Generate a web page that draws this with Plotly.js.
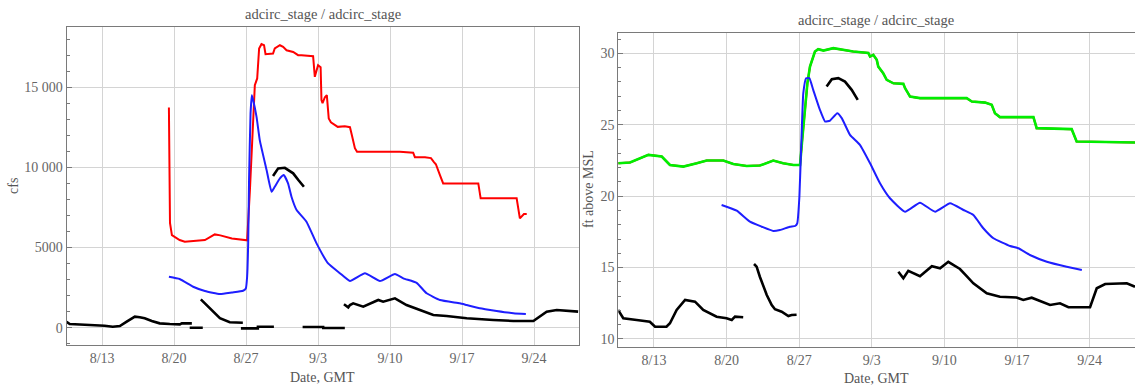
<!DOCTYPE html>
<html>
<head>
<meta charset="utf-8">
<script src="https://cdn.plot.ly/plotly-3.0.1.min.js"></script>
<style>html,body{margin:0;padding:0;background:#fff;}#chart{width:1135px;height:386px;}</style>
</head>
<body>
<div id="chart"></div>
<script>
// ---------- LEFT PANEL (cfs) ----------
const flowRedX = ['2011-08-19 12:00','2011-08-19 13:00','2011-08-19 14:30','2011-08-19 19:00','2011-08-20 13:00','2011-08-21 01:00','2011-08-22 00:00','2011-08-23 00:00','2011-08-23 23:00','2011-08-24 12:00','2011-08-25 15:00','2011-08-26 23:00','2011-08-27 02:30','2011-08-27 09:00','2011-08-27 16:30','2011-08-27 20:30','2011-08-28 02:00','2011-08-28 06:30','2011-08-28 12:00','2011-08-28 18:00','2011-08-28 21:30','2011-08-29 15:00','2011-08-29 19:00','2011-08-30 07:00','2011-08-30 14:30','2011-08-30 22:30','2011-08-31 14:00','2011-09-01 01:30','2011-09-01 09:30','2011-09-02 12:30','2011-09-02 16:30','2011-09-03 00:00','2011-09-03 06:00','2011-09-03 08:00','2011-09-03 10:30','2011-09-03 16:00','2011-09-03 20:30','2011-09-04 01:00','2011-09-04 06:00','2011-09-04 22:00','2011-09-05 14:30','2011-09-06 02:30','2011-09-06 07:00','2011-09-06 14:00','2011-09-06 19:00','2011-09-10 23:00','2011-09-12 06:00','2011-09-12 10:00','2011-09-13 09:30','2011-09-13 23:30','2011-09-14 06:30','2011-09-14 11:00','2011-09-14 20:30','2011-09-15 04:00','2011-09-18 14:00','2011-09-18 19:30','2011-09-22 07:30','2011-09-22 15:00','2011-09-23 00:30','2011-09-23 07:00'];
const flowRedY = [13740,9000,6530,5780,5470,5360,5420,5470,5820,5760,5570,5470,5450,8570,13360,15130,15550,17420,17690,17620,17060,17100,17420,17620,17520,17310,17200,17000,17000,16940,15650,16380,16250,14200,14010,14380,14510,13050,12820,12530,12570,12510,12010,11200,10970,10970,10920,10640,10640,10580,10330,10200,9520,9000,9000,8070,8070,6820,7090,7090];

const flowBlueX = ['2011-08-19 12:00','2011-08-20 13:00','2011-08-21 20:30','2011-08-23 00:00','2011-08-24 11:00','2011-08-25 15:00','2011-08-26 17:00','2011-08-26 23:30','2011-08-27 02:30','2011-08-27 05:00','2011-08-27 07:00','2011-08-27 10:30','2011-08-27 13:30','2011-08-27 16:30','2011-08-28 00:30','2011-08-28 08:00','2011-08-29 00:00','2011-08-29 11:30','2011-08-29 19:00','2011-08-30 07:00','2011-08-30 16:00','2011-08-31 02:00','2011-08-31 10:00','2011-08-31 22:00','2011-09-01 21:00','2011-09-02 20:30','2011-09-03 23:30','2011-09-05 03:00','2011-09-06 02:30','2011-09-07 13:30','2011-09-09 00:30','2011-09-10 11:30','2011-09-11 07:00','2011-09-12 14:00','2011-09-13 13:30','2011-09-14 20:30','2011-09-16 19:00','2011-09-17 11:00','2011-09-18 17:30','2011-09-22 00:00','2011-09-23 05:00'];
const flowBlueY = [3180,3040,2555,2290,2100,2200,2306,2450,3180,5260,9210,13370,14500,14200,13150,11700,9830,8480,8790,9310,9520,9000,8170,7340,6610,5260,4010,3400,2910,3390,2910,3350,3080,2800,2145,1730,1520,1415,1210,900,850];

const flowBlackX = ['2011-08-09 13:00','2011-08-09 20:30','2011-08-10 20:00','2011-08-12 12:30','2011-08-13 06:00','2011-08-14 01:00','2011-08-14 17:30','2011-08-15 09:30','2011-08-16 04:30','2011-08-16 16:00','2011-08-17 03:30','2011-08-17 20:00','2011-08-18 14:30','2011-08-19 14:00','2011-08-20 13:30','2011-08-20 18:00','2011-08-21 17:30','2011-08-21 18:00',
 '2011-08-21 12:30','2011-08-22 19:00','2011-08-22 20:00',
 '2011-08-22 14:30','2011-08-23 04:30','2011-08-23 23:00','2011-08-24 11:00','2011-08-25 10:00','2011-08-26 00:00','2011-08-26 16:30','2011-08-26 17:00',
 '2011-08-26 12:00','2011-08-28 03:30','2011-08-28 03:40','2011-08-29 17:00','2011-08-29 18:00',
 '2011-08-29 15:00','2011-08-30 03:00','2011-08-30 18:30','2011-08-31 14:00','2011-09-01 02:30','2011-09-01 15:00','2011-09-01 16:00',
 '2011-09-01 12:00','2011-09-03 12:00','2011-09-03 12:10','2011-09-05 14:30','2011-09-05 15:00',
 '2011-09-05 12:30','2011-09-05 22:30','2011-09-06 02:30','2011-09-06 10:00','2011-09-07 09:30','2011-09-08 20:30','2011-09-09 08:00','2011-09-10 11:30','2011-09-11 14:30','2011-09-12 21:30','2011-09-14 05:00','2011-09-15 12:00','2011-09-17 11:00','2011-09-20 01:00','2011-09-22 00:00','2011-09-23 22:30','2011-09-25 05:30','2011-09-26 05:00','2011-09-28 07:00'];
const flowBlackY = [375,230,200,170,120,60,100,375,690,650,590,420,270,230,210,270,270,null,
 0,0,null,
 1770,1415,900,590,340,330,310,null,
 -40,-40,60,60,null,
 9460,9940,9975,9630,9200,8790,null,
 40,40,-20,-20,null,
 1460,1270,1415,1520,1310,1730,1620,1830,1415,1100,790,730,590,480,420,420,1000,1100,1000];

// ---------- RIGHT PANEL (ft above MSL) ----------
const stageGreenX = ['2011-08-09 13:00','2011-08-10 16:30','2011-08-12 11:00','2011-08-13 18:00','2011-08-14 13:00','2011-08-15 20:00','2011-08-17 03:00','2011-08-18 02:00','2011-08-19 16:30','2011-08-20 15:30','2011-08-21 22:30','2011-08-23 05:00','2011-08-24 12:00','2011-08-25 11:00','2011-08-26 10:30','2011-08-27 02:00','2011-08-27 07:00','2011-08-27 13:30','2011-08-27 19:00','2011-08-28 01:00','2011-08-28 12:30','2011-08-28 20:00','2011-08-29 08:00','2011-08-30 07:00','2011-08-31 02:30','2011-09-01 05:00','2011-09-02 16:00','2011-09-02 20:00','2011-09-03 03:30','2011-09-03 11:30','2011-09-03 15:00','2011-09-04 02:30','2011-09-04 10:30','2011-09-05 02:00','2011-09-06 01:00','2011-09-06 05:00','2011-09-06 16:30','2011-09-07 15:30','2011-09-12 03:30','2011-09-12 15:30','2011-09-13 22:00','2011-09-14 13:30','2011-09-14 21:00','2011-09-15 08:30','2011-09-18 14:00','2011-09-18 21:30','2011-09-22 06:30','2011-09-22 18:00','2011-09-28 12:00'];
const stageGreenY = [22.30,22.35,22.89,22.77,22.18,22.07,22.30,22.49,22.49,22.25,22.11,22.14,22.49,22.30,22.18,22.18,23.94,26.27,27.90,29.07,30.12,30.29,30.19,30.36,30.24,30.12,30.02,29.77,29.89,29.54,29.07,28.60,28.14,27.90,27.86,27.56,26.97,26.86,26.86,26.62,26.55,26.39,25.80,25.53,25.53,24.76,24.69,23.82,23.75];

const stageBlueX = ['2011-08-19 12:30','2011-08-20 23:30','2011-08-22 06:00','2011-08-23 09:30','2011-08-24 12:00','2011-08-25 03:30','2011-08-26 02:30','2011-08-26 14:30','2011-08-26 19:30','2011-08-27 00:30','2011-08-27 06:00','2011-08-27 09:30','2011-08-27 16:00','2011-08-27 23:30','2011-08-28 08:30','2011-08-29 00:00','2011-08-29 12:00','2011-08-29 23:30','2011-08-30 16:00','2011-08-31 02:30','2011-08-31 21:30','2011-09-01 20:30','2011-09-02 20:00','2011-09-03 19:00','2011-09-04 18:00','2011-09-06 05:00','2011-09-07 15:30','2011-09-09 02:30','2011-09-10 13:00','2011-09-11 20:00','2011-09-12 19:00','2011-09-13 18:00','2011-09-14 17:30','2011-09-16 08:00','2011-09-17 03:00','2011-09-18 06:00','2011-09-19 21:00','2011-09-21 19:00','2011-09-23 06:00'];
const stageBlueY = [19.38,18.98,18.21,17.86,17.56,17.63,17.86,17.91,18.10,19.96,24.64,27.20,28.26,28.26,27.44,26.04,25.22,25.29,25.80,25.46,24.29,23.59,22.30,20.90,19.85,18.91,19.54,18.91,19.50,19.03,18.68,17.75,17.05,16.51,16.35,15.88,15.41,15.06,14.83];

const stageBlackX = ['2011-08-09 13:00','2011-08-10 01:00','2011-08-11 08:00','2011-08-12 14:30','2011-08-13 02:30','2011-08-14 05:00','2011-08-14 13:00','2011-08-15 04:30','2011-08-16 00:00','2011-08-16 23:00','2011-08-17 18:00','2011-08-19 01:00','2011-08-20 00:00','2011-08-20 12:00','2011-08-20 19:30','2011-08-21 14:30','2011-08-21 15:00',
 '2011-08-22 15:30','2011-08-22 21:30','2011-08-23 05:00','2011-08-23 13:00','2011-08-23 21:00','2011-08-24 08:30','2011-08-24 16:00','2011-08-25 07:30','2011-08-25 23:00','2011-08-26 06:30','2011-08-26 18:00','2011-08-26 19:00',
 '2011-08-29 15:30','2011-08-30 03:30','2011-08-30 18:30','2011-08-31 10:00','2011-09-01 01:30','2011-09-01 15:30','2011-09-01 16:00',
 '2011-09-05 13:30','2011-09-06 01:00','2011-09-06 12:30','2011-09-07 15:30','2011-09-08 19:00','2011-09-09 14:00','2011-09-10 09:00','2011-09-11 12:00','2011-09-12 03:30','2011-09-12 19:00','2011-09-14 02:00','2011-09-15 08:30','2011-09-16 23:00','2011-09-17 14:30','2011-09-18 10:00','2011-09-20 04:30','2011-09-21 03:30','2011-09-21 23:00','2011-09-24 01:00','2011-09-24 16:30','2011-09-25 12:00','2011-09-27 14:00','2011-09-28 09:00'];
const stageBlackY = [12.03,11.45,11.33,11.21,10.86,10.86,11.10,12.03,12.73,12.61,12.03,11.56,11.45,11.33,11.56,11.52,null,
 15.25,15.06,14.36,13.66,13.08,12.38,12.08,11.91,11.61,11.68,11.70,null,
 27.67,28.19,28.26,28.02,27.44,26.74,null,
 14.71,14.25,14.77,14.40,15.10,14.95,15.40,14.90,14.40,13.90,13.20,12.96,12.90,12.73,12.89,12.38,12.50,12.22,12.22,13.55,13.85,13.90,13.66];

// ---------- labels ----------
const panelTitle = 'adcirc_stage / adcirc_stage';
const leftYLabel = 'cfs';
const rightYLabel = 'ft above MSL';
const xLabel = 'Date, GMT';

const W = 1135, H = 386;
const FONT = '"Liberation Serif", "Times New Roman", serif';
const px = v => v / W;
const py = v => 1 - v / H;

const RED = '#ff0000', BLUE = '#1e1eff', GREEN = '#00ee00', BLACK = '#000000';

const traces = [
  {x: flowRedX, y: flowRedY, xaxis: 'x', yaxis: 'y', mode: 'lines', line: {color: RED, width: 2}, hoverinfo: 'skip'},
  {x: flowBlueX, y: flowBlueY, xaxis: 'x', yaxis: 'y', mode: 'lines', line: {color: BLUE, width: 2, shape: 'spline', smoothing: 0.4}, hoverinfo: 'skip'},
  {x: flowBlackX, y: flowBlackY, xaxis: 'x', yaxis: 'y', mode: 'lines', connectgaps: false, line: {color: BLACK, width: 2.6}, hoverinfo: 'skip'},
  {x: stageGreenX, y: stageGreenY, xaxis: 'x2', yaxis: 'y2', mode: 'lines', line: {color: RED, width: 2}, hoverinfo: 'skip'},
  {x: stageGreenX, y: stageGreenY, xaxis: 'x2', yaxis: 'y2', mode: 'lines', line: {color: GREEN, width: 2.6}, hoverinfo: 'skip'},
  {x: stageBlueX, y: stageBlueY, xaxis: 'x2', yaxis: 'y2', mode: 'lines', line: {color: BLUE, width: 2, shape: 'spline', smoothing: 0.4}, hoverinfo: 'skip'},
  {x: stageBlackX, y: stageBlackY, xaxis: 'x2', yaxis: 'y2', mode: 'lines', connectgaps: false, line: {color: BLACK, width: 2.6}, hoverinfo: 'skip'}
];

const AXC = '#7a7a7a', GRIDC = '#d4d4d4', TICKC = '#666666';
const xCommon = {
  type: 'date', tick0: '2011-08-13', dtick: 7 * 86400000, tickformat: '%-m/%-d',
  showgrid: true, gridcolor: GRIDC, gridwidth: 1, showline: true, linecolor: AXC, linewidth: 1,
  mirror: true, ticks: '', zeroline: false, automargin: false,
  tickfont: {family: FONT, size: 14, color: TICKC}
};
const yCommon = {
  showgrid: true, gridcolor: GRIDC, gridwidth: 1, showline: true, linecolor: AXC, linewidth: 1,
  ticks: 'inside', ticklen: 5, tickcolor: AXC, zeroline: false, automargin: false,
  exponentformat: 'none', separatethousands: false,
  tickfont: {family: FONT, size: 14, color: TICKC}
};

const layout = {
  width: W, height: H,
  margin: {l: 0, r: 0, t: 0, b: 0},
  paper_bgcolor: '#ffffff', plot_bgcolor: '#ffffff',
  showlegend: false,
  separators: '. ',
  xaxis: Object.assign({}, xCommon, {domain: [px(66.5), px(579)], anchor: 'y',
    range: ['2011-08-09 13:00', '2011-09-28 09:00']}),
  yaxis: Object.assign({}, yCommon, {domain: [py(345), py(27)], anchor: 'x', mirror: true,
    range: [-1080, 18760], tick0: 0, dtick: 5000,
    minor: {dtick: 1000, ticks: 'inside', ticklen: 3, tickcolor: AXC, showgrid: false}}),
  xaxis2: Object.assign({}, xCommon, {domain: [px(618.3), 1], anchor: 'y2',
    range: ['2011-08-09 13:30', '2011-09-28 09:00']}),
  yaxis2: Object.assign({}, yCommon, {domain: [py(346.7), py(33.3)], anchor: 'x2', mirror: false,
    range: [9.46, 31.4], tick0: 0, dtick: 5,
    minor: {dtick: 1, ticks: 'inside', ticklen: 3, tickcolor: AXC, showgrid: false}}),
  annotations: [
    {text: panelTitle, xref: 'paper', yref: 'paper', x: px(322.5), y: py(13.5), xanchor: 'center', yanchor: 'middle', showarrow: false, font: {family: FONT, size: 14.5, color: '#555555'}},
    {text: panelTitle, xref: 'paper', yref: 'paper', x: px(876), y: py(20.5), xanchor: 'center', yanchor: 'middle', showarrow: false, font: {family: FONT, size: 14.5, color: '#555555'}},
    {text: xLabel, xref: 'paper', yref: 'paper', x: px(322.5), y: py(377), xanchor: 'center', yanchor: 'middle', showarrow: false, font: {family: FONT, size: 14, color: '#555555'}},
    {text: xLabel, xref: 'paper', yref: 'paper', x: px(876), y: py(378), xanchor: 'center', yanchor: 'middle', showarrow: false, font: {family: FONT, size: 14, color: '#555555'}},
    {text: leftYLabel, xref: 'paper', yref: 'paper', x: px(14), y: py(186), xanchor: 'center', yanchor: 'middle', textangle: -90, showarrow: false, font: {family: FONT, size: 14, color: '#555555'}},
    {text: rightYLabel, xref: 'paper', yref: 'paper', x: px(588), y: py(189), xanchor: 'center', yanchor: 'middle', textangle: -90, showarrow: false, font: {family: FONT, size: 14, color: '#555555'}}
  ]
};

Plotly.newPlot('chart', traces, layout, {staticPlot: true, displayModeBar: false});
</script>
</body>
</html>
